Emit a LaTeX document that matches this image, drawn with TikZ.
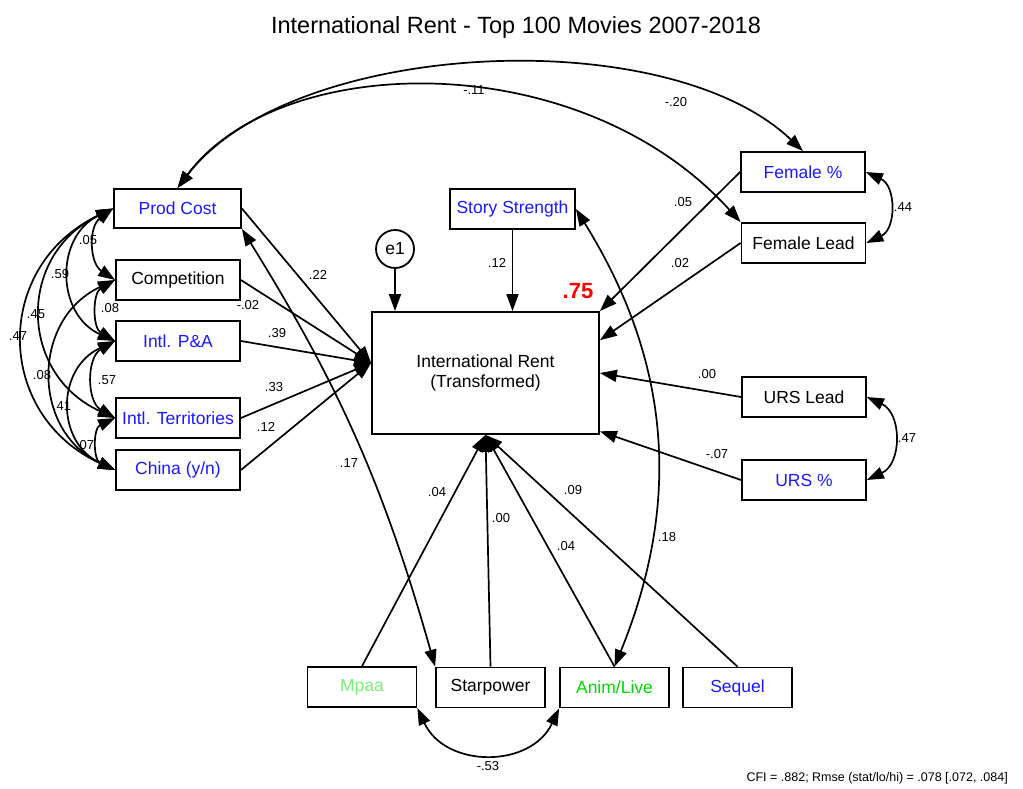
\documentclass[tikz,border=0pt]{standalone}
\usepackage{fontspec}
\setmainfont{Liberation Sans}
\usepackage{xcolor}
\usetikzlibrary{arrows.meta}
\definecolor{varblue}{RGB}{25,25,255}
\definecolor{palegreen}{RGB}{120,240,120}
\definecolor{animgreen}{RGB}{0,220,0}

\begin{document}
\begin{tikzpicture}[x=1pt,y=1pt]
    \tikzstyle{obs}=[draw,line width=1.8pt,minimum width=124pt,minimum height=40pt,inner sep=0pt,font=\fontsize{17.5}{20.5}\selectfont]
    \tikzstyle{lowobs}=[obs,minimum width=109pt]
    \tikzstyle{lbl}=[inner sep=1pt,font=\fontsize{13}{15}\selectfont]
    \tikzstyle{regr}=[line width=1.7pt,-{Triangle[length=17pt,width=12pt]}]
    \tikzstyle{cov}=[line width=1.7pt,{Triangle[length=17pt,width=12pt]}-{Triangle[length=17pt,width=12pt]}]
\useasboundingbox (0,0) rectangle (1023,-788);

\node[font=\fontsize{23.5}{28}\selectfont] (title) at (516,-27) {International Rent - Top 100 Movies 2007-2018};

\node[obs,text=varblue,minimum width=127pt,minimum height=39pt] (prod) at (177.5,-208.5) {Prod Cost};
\node[obs] (comp) at (178,-280) {Competition};
\node[obs,text=varblue] (pa) at (178,-341) {Intl. P\&A};
\node[obs,text=varblue] (terr) at (178,-418) {Intl. Territories};
\node[obs,text=varblue] (china) at (178,-470) {China (y/n)};

\node[obs,text=varblue,minimum width=125pt] (story) at (512.5,-209) {Story Strength};
\node[draw,circle,line width=1.8pt,minimum size=38pt,inner sep=0pt,font=\fontsize{17.5}{20.5}\selectfont] (e1) at (395,-249) {e1};
\node[obs,minimum width=227pt,minimum height=122pt,align=center] (rent) at (485.5,-373) {International Rent\\(Transformed)};
\node[text=red,font=\bfseries\fontsize{22}{26}\selectfont] (rsq) at (578,-291) {.75};

\node[obs,text=varblue] (femp) at (803,-172) {Female \%};
\node[obs] (feml) at (803.5,-243) {Female Lead};
\node[obs] (ursl) at (804,-397) {URS Lead};
\node[obs,text=varblue] (ursp) at (804,-480) {URS \%};

\node[lowobs,text=palegreen] (mpaa) at (362,-687) {Mpaa};
\node[lowobs] (star) at (490.5,-687.5) {Starpower};
\node[lowobs,text=animgreen] (anim) at (614.5,-687.5) {Anim/Live};
\node[lowobs,text=varblue] (seq) at (737.5,-687.5) {Sequel};

\draw[regr] (prod.east) -- (rent.175);
\draw[regr] (comp.east) -- (rent.175);
\draw[regr] (pa.east) -- (rent.175);
\draw[regr] (terr.east) -- (rent.175);
\draw[regr] (china.east) -- (rent.175);
\draw[regr] (e1) -- (e1 |- rent.north);
\draw[regr] (story) -- (story |- rent.north);
\draw[regr] (femp.west) -- (rent.north east);
\draw[regr] (feml.west) -- (rent.16);
\draw[regr] (ursl.west) -- (rent.east);
\draw[regr] (ursp.west) -- (rent.-27);
\draw[regr] (mpaa.north) -- (rent.south);
\draw[regr] (star.north) -- (rent.south);
\draw[regr] (anim.north) -- (rent.south);
\draw[regr] (seq.north) -- (rent.south);

\draw[cov] (prod.west) to[bend right=55,looseness=1.1] (comp.west);
\draw[cov] (prod.west) to[bend right=65,looseness=1.25] (pa.west);
\draw[cov] (prod.west) to[bend right=65,looseness=1.3] (terr.west);
\draw[cov] (prod.west) to[bend right=65,looseness=1.3] (china.west);
\draw[cov] (comp.west) to[bend right=60,looseness=1.1] (pa.west);
\draw[cov] (comp.west) to[bend right=65,looseness=1.25] (china.west);
\draw[cov] (pa.west) to[bend right=60,looseness=1.1] (terr.west);
\draw[cov] (pa.west) to[bend right=65,looseness=1.3] (china.west);
\draw[cov] (terr.west) to[bend right=65,looseness=1.2] (china.west);
\draw[cov] (femp.east) to[bend left=65,looseness=1.2] (feml.east);
\draw[cov] (ursl.east) to[bend left=65,looseness=1.2] (ursp.east);
\draw[cov] (mpaa.south east) to[bend right=65,looseness=1.2] (anim.south west);
\draw[cov] (prod.south east) to[bend left=8] (star.north west);
\draw[cov] (story.east) to[bend left=27] (anim.north);
\draw[cov] (prod.north) .. controls (290,-40) and (665,-20) .. (femp.north);
\draw[cov] (prod.north) .. controls (280,-50) and (580,-45) .. (feml.north west);

\node[lbl] (wprod) at (318,-275) {.22};
\node[lbl] (wcomp) at (248,-305) {-.02};
\node[lbl] (wpa) at (277,-333) {.39};
\node[lbl] (wterr) at (274,-387) {.33};
\node[lbl] (wchina) at (266,-427) {.12};
\node[lbl] (wstory) at (497,-263) {.12};
\node[lbl] (wfemp) at (683,-202) {.05};
\node[lbl] (wfeml) at (680,-263) {.02};
\node[lbl] (wursl) at (707,-374) {.00};
\node[lbl] (wursp) at (717,-454) {-.07};
\node[lbl] (wmpaa) at (437,-492) {.04};
\node[lbl] (wstar) at (501,-518) {.00};
\node[lbl] (wanim) at (566,-546) {.04};
\node[lbl] (wseq) at (573,-490) {.09};

\node[lbl] (cprodstar) at (349,-463) {.17};
\node[lbl] (cstoryanim) at (667,-537) {.18};
\node[lbl] (cmpaaanim) at (488,-766) {-.53};
\node[lbl] (cfem) at (903,-207) {.44};
\node[lbl] (curs) at (907,-438) {.47};
\node[lbl] (cprodfeml) at (474,-90) {-.11};
\node[lbl] (cprodfemp) at (676,-102) {-.20};
\node[lbl] (cprodcomp) at (88,-240) {.05};
\node[lbl] (cprodpa) at (60,-274) {.59};
\node[lbl] (cprodterr) at (36,-314) {.45};
\node[lbl] (cprodchina) at (18,-336) {.47};
\node[lbl] (ccomppa) at (110,-308) {.08};
\node[lbl] (ccompchina) at (42,-375) {.08};
\node[lbl] (cpaterr) at (107,-380) {.57};
\node[lbl] (cpachina) at (62,-406) {.41};
\node[lbl] (cterrchina) at (85,-445) {.07};

\node[lbl,anchor=east,font=\fontsize{12.5}{14}\selectfont] (fit) at (1009,-778) {CFI = .882; Rmse (stat/lo/hi) = .078 [.072, .084]};
\end{tikzpicture}
\end{document}
